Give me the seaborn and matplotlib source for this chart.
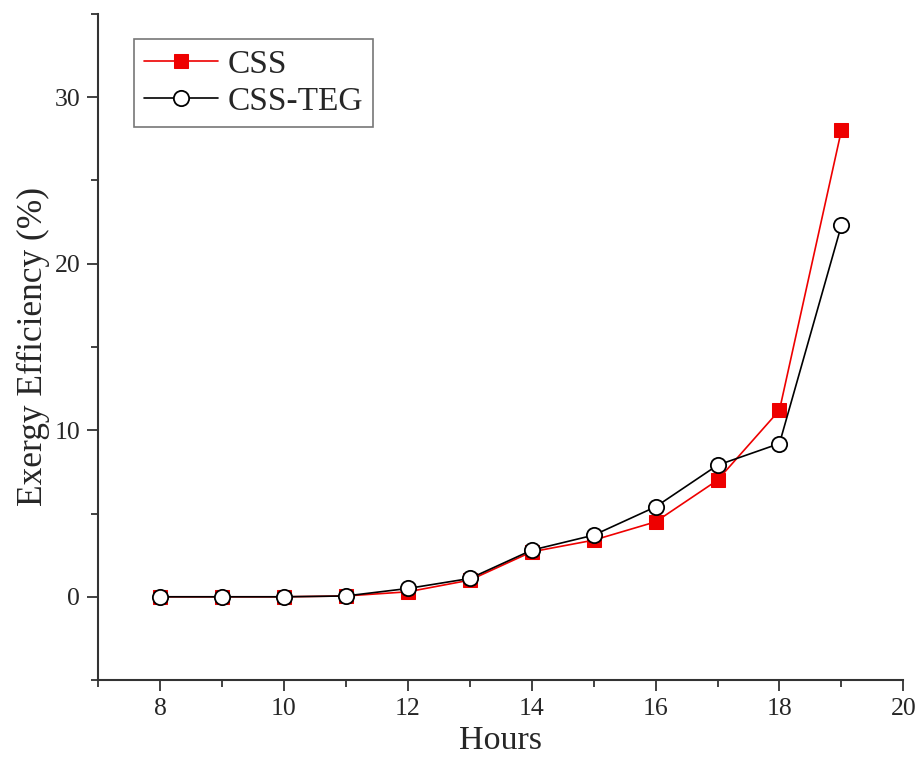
import pandas as pd
import matplotlib.pyplot as plt
import seaborn as sns
from matplotlib.ticker import MultipleLocator

# Data
hours = [8, 9, 10, 11, 12, 13, 14, 15, 16, 17, 18, 19]
css = [0.0, 0.0, 0.0, 0.05, 0.3, 1.0, 2.7, 3.4, 4.5, 7.0, 11.2, 28.0]
css_teg = [0.0, 0.0, 0.0, 0.05, 0.5, 1.1, 2.8, 3.7, 5.4, 7.9, 9.2, 22.3]

df = pd.DataFrame({'Hours': hours * 2,
                   'Efficiency': css + css_teg,
                   'Case': ['CSS'] * len(hours) + ['CSS-TEG'] * len(hours)})

sns.set_style('ticks')
plt.rcParams['font.family'] = ['Liberation Serif', 'DejaVu Serif']

fig = plt.figure(figsize=(9.18, 7.65), dpi=100)
ax = fig.add_axes([0.107, 0.111, 0.877, 0.871])

sns.lineplot(data=df[df.Case == 'CSS'], x='Hours', y='Efficiency', ax=ax,
             color='#ee0000', lw=1.2, marker='s', markersize=10,
             markerfacecolor='#ee0000', markeredgecolor='#ee0000', label='CSS')
sns.lineplot(data=df[df.Case == 'CSS-TEG'], x='Hours', y='Efficiency', ax=ax,
             color='black', lw=1.2, marker='o', markersize=11,
             markerfacecolor='white', markeredgecolor='black',
             markeredgewidth=1.3, label='CSS-TEG')

ax.set_xlim(7, 20)
ax.set_ylim(-5, 35)
ax.xaxis.set_major_locator(MultipleLocator(2))
ax.xaxis.set_minor_locator(MultipleLocator(1))
ax.yaxis.set_major_locator(MultipleLocator(10))
ax.yaxis.set_minor_locator(MultipleLocator(5))
ax.tick_params(which='major', direction='out', length=8, width=1.3, pad=5,
               labelsize=18.5, color='#333333')
ax.tick_params(which='minor', direction='out', length=5, width=1.3, color='#333333')
for s in ['top', 'right']:
    ax.spines[s].set_visible(False)
for s in ['left', 'bottom']:
    ax.spines[s].set_linewidth(1.5)
    ax.spines[s].set_color('#333333')

ax.set_xlabel('Hours', fontsize=24.5, labelpad=4)
ax.set_ylabel('Exergy Efficiency (%)', fontsize=25.5, labelpad=3)

leg = ax.legend(loc='upper left', bbox_to_anchor=(0.045, 0.962), fontsize=24,
                frameon=True, fancybox=False, edgecolor='#555555',
                handlelength=2.2, borderpad=0.3, borderaxespad=0,
                labelspacing=0.2, handletextpad=0.3)
leg.get_frame().set_linewidth(1.2)

fig.savefig('out.png', dpi=100)
